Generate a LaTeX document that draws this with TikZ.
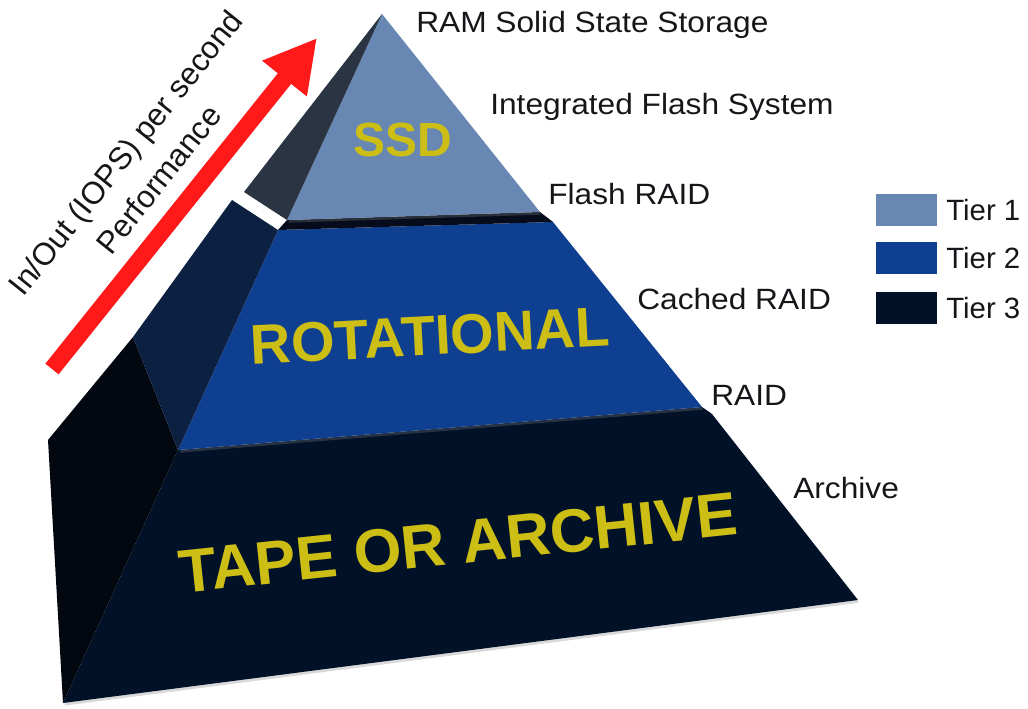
\documentclass[tikz,border=0pt]{standalone}
\usepackage{fontspec}
\setmainfont{Liberation Sans}
\usepackage{tikz}
\usetikzlibrary{positioning,arrows.meta,shadows}

\definecolor{tierone}{RGB}{104,135,179}
\definecolor{tieronedark}{RGB}{42,52,66}
\definecolor{tiertwo}{RGB}{15,63,145}
\definecolor{tiertwodark}{RGB}{12,33,66}
\definecolor{tiertwotop}{RGB}{6,12,28}
\definecolor{tierthree}{RGB}{1,17,40}
\definecolor{tierthreedark}{RGB}{2,7,16}
\definecolor{tieryellow}{RGB}{204,190,20}
\definecolor{perfred}{RGB}{255,25,25}
\definecolor{labelgray}{RGB}{22,22,26}

\begin{document}
\begin{tikzpicture}[x=0.75pt, y=-0.75pt,
        side/.style = {anchor=base west, inner sep=0pt, text=labelgray,
        xscale=1.08, font=\fontsize{22}{26}\selectfont},
        keytext/.style = {inner sep=0pt, text=labelgray,
        font=\fontsize{22}{26}\selectfont},
        tiername/.style = {inner sep=0pt, text=tieryellow,
        font=\bfseries\fontsize{36}{40}\selectfont},
        swatch/.style = {minimum width=45.75pt, minimum height=23.5pt,
        inner sep=0pt},
        face shadow/.style = {drop shadow={opacity=0.3,
        shadow xshift=1pt, shadow yshift=-2pt}}]
    \useasboundingbox (0,0) rectangle (1028,709);

    \coordinate (t1apex) at (382,14);
    \coordinate (t1back) at (244,192);
    \coordinate (t1left) at (287,220);
    \coordinate (t1right) at (540,212);

    \coordinate (t2back) at (232,200);
    \coordinate (t2tl) at (278,230);
    \coordinate (t2tr) at (553,222);
    \coordinate (t2br) at (702,407);
    \coordinate (t2bl) at (178,450);
    \coordinate (t2bb) at (133,337);

    \coordinate (t3far) at (48,440);
    \coordinate (t3bl) at (63,703);
    \coordinate (t3br) at (858,600);
    \coordinate (t3tr) at (712,414);

    \fill[tierthree, face shadow] (t2bl) -- (t2br) -- (t3tr) -- (t3br)
        -- (t3bl) -- cycle;
    \fill[tierthreedark] (t2bb) -- (t3far) -- (t3bl) -- (t2bl) -- cycle;
    \fill[tiertwo, face shadow] (t2tl) -- (t2tr) -- (t2br) -- (t2bl) -- cycle;
    \fill[tiertwodark] (t2back) -- (t2tl) -- (t2bl) -- (t2bb) -- cycle;
    \fill[tiertwotop] (t1left) -- (t1right) -- (t2tr) -- (t2tl) -- cycle;
    \fill[tierone, face shadow] (t1apex) -- (t1right) -- (t1left) -- cycle;
    \fill[tieronedark] (t1apex) -- (t1left) -- (t1back) -- cycle;

    \node[tiername] (ssd) at (403,140) {SSD};
    \node[tiername, rotate=3, font=\bfseries\fontsize{42}{46}\selectfont]
        (rotational) at (430,336) {ROTATIONAL};
    \node[tiername, rotate=6, font=\bfseries\fontsize{46}{50}\selectfont]
        (tape) at (458,543) {TAPE OR ARCHIVE};

    \node[side] (ram) at (416,33) {RAM Solid State Storage};
    \node[side] (ifs) at (490,115) {Integrated Flash System};
    \node[side] (flashraid) at (548,205) {Flash RAID};
    \node[side] (cached) at (637,310) {Cached RAID};
    \node[side] (raid) at (711,405) {RAID};
    \node[side] (archive) at (793,498) {Archive};

    \coordinate (perf tail) at (52,369);
    \coordinate (perf tip) at (317,38);
    \draw[perfred, line width=12.75pt, -{Triangle[length=39pt, width=40pt]}]
        (perf tail) -- (perf tip);
    \node[rotate=51.3, align=center, inner sep=0pt, text=labelgray,
        font=\fontsize{23.5}{32}\selectfont]
        (perf) at (142,166) {In/Out (IOPS) per second\\Performance};

    \node[swatch, fill=tierone] (key1) at (906,210) {};
    \node[swatch, fill=tiertwo] (key2) at (906,258) {};
    \node[swatch, fill=tierthree] (key3) at (906,308) {};
    \node[keytext, right=7pt of key1] (tier1) {Tier 1};
    \node[keytext, right=7pt of key2] (tier2) {Tier 2};
    \node[keytext, right=7pt of key3] (tier3) {Tier 3};
\end{tikzpicture}
\end{document}
